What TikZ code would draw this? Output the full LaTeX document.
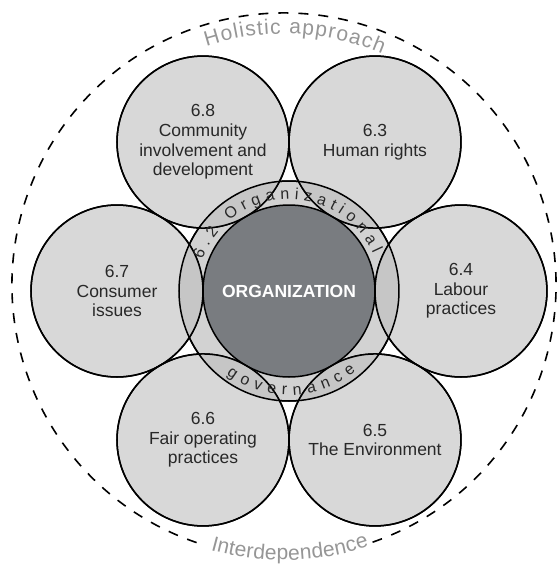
\documentclass[tikz,border=0pt]{standalone}
\usepackage{fontspec}
\setmainfont{Liberation Sans}
\usetikzlibrary{decorations.text}
\definecolor{petalgray}{RGB}{216,216,216}
\definecolor{bandgray}{RGB}{210,210,210}
\definecolor{lensgray}{RGB}{198,198,198}
\definecolor{coregray}{RGB}{121,124,128}
\definecolor{wordgray}{RGB}{150,150,150}
\definecolor{inkgray}{RGB}{40,40,40}
\newcommand{\petalfont}{\fontsize{17.5}{19.7}\selectfont}
\newcommand{\ringfont}{\fontsize{16}{16}\selectfont}
\newcommand{\wordfont}{\fontsize{21}{21}\selectfont}

\begin{document}
\begin{tikzpicture}[x=1pt,y=1pt,
    outline/.style={draw=black,line width=1.5pt},
    petal/.style={outline,circle,fill=petalgray,minimum size=172pt,inner sep=0pt,outer sep=0pt,
                  align=center,text=inkgray,font=\petalfont},
    ringbox/.style={outline,circle,fill=bandgray,minimum size=220pt,inner sep=0pt,outer sep=0pt},
    core/.style={outline,circle,fill=coregray,minimum size=172pt,inner sep=0pt,outer sep=0pt,
                 text=white,font=\petalfont\bfseries},
    rimline/.style={draw=black,line width=1.6pt,dash pattern=on 10pt off 10pt}]
        \useasboundingbox (-289,291) rectangle (270,-275);
        % outer dashed circle
        \coordinate (rim) at (-5,6);
        \draw[rimline] ([shift={(-71:272pt)}]rim) arc[start angle=-71,end angle=252,radius=272pt];
        % ring and the six subjects
        \node[ringbox] (gov) at (0,0) {};
        \node[petal] (lab) at (0:172) {6.4\\Labour\\practices};
        \node[petal] (hr) at (60:172) {6.3\\Human rights};
        \node[petal] (com) at (120:172) {6.8\\Community\\involvement and\\development};
        \node[petal] (con) at (180:172) {6.7\\Consumer\\issues};
        \node[petal] (fop) at (240:172) {6.6\\Fair operating\\practices};
        \node[petal] (env) at (300:172) {6.5\\The Environment};
        \begin{scope}
            \clip (gov.center) circle[radius=110pt];
            \foreach \p in {lab,hr,com,con,fop,env}
                \fill[lensgray] (\p.center) circle[radius=86pt];
        \end{scope}
        \node[core] (org) at (gov.center) {ORGANIZATION};
        \draw[outline] (gov.center) circle[radius=110pt];
        \foreach \p in {lab,hr,com,con,fop,env}
            \draw[outline] (\p.center) circle[radius=86pt];
        % texts along the circles
        \path[decorate,decoration={text along path,text align=fit to path,text color=inkgray,
              text={|\ringfont|6.2 Organizational}}]
            ([shift={(160:92pt)}]gov.center) arc[start angle=160,end angle=24,radius=92pt];
        \path[decorate,decoration={text along path,text align=fit to path,text color=inkgray,
              text={|\ringfont|governance}}]
            ([shift={(233:104pt)}]gov.center) arc[start angle=233,end angle=310,radius=104pt];
        \path[decorate,decoration={text along path,text align=fit to path,text color=wordgray,
              text={|\wordfont|Holistic approach}}]
            ([shift={(108:251pt)}]rim) arc[start angle=108,end angle=67,radius=251pt];
        \path[decorate,decoration={text along path,text align=fit to path,text color=wordgray,
              text={|\wordfont|Interdependence}}]
            ([shift={(254.5:275pt)}]rim) arc[start angle=254.5,end angle=288,radius=275pt];
\end{tikzpicture}
\end{document}
